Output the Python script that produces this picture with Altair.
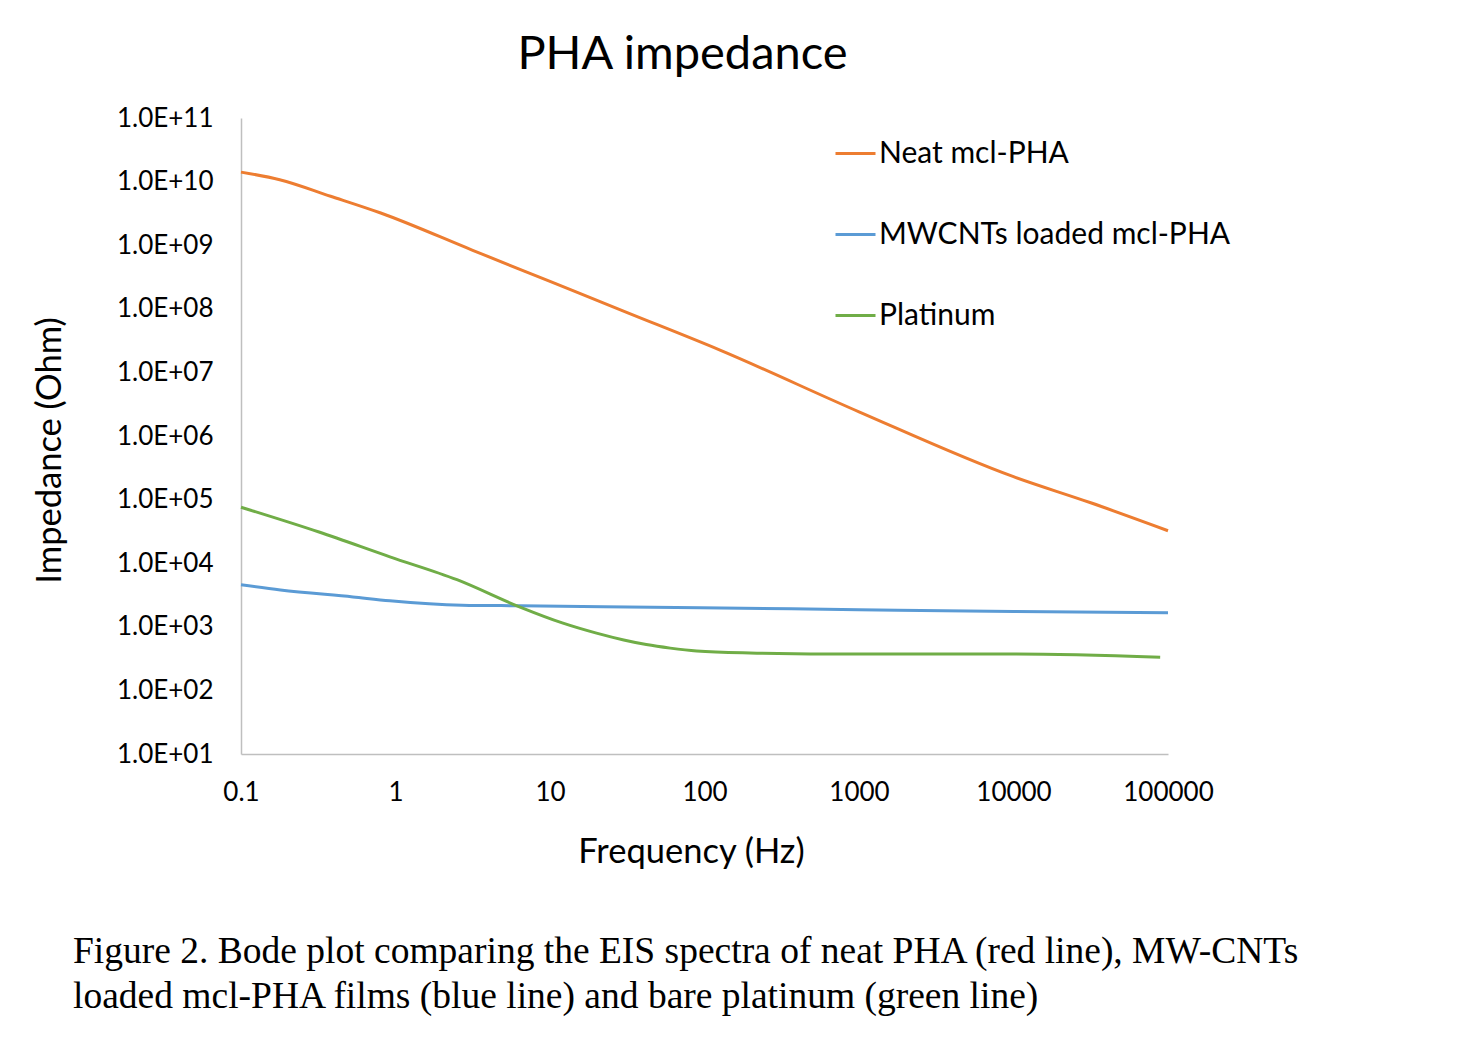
import altair as alt
import pandas as pd

series_names = ["Neat mcl-PHA", "MWCNTs loaded mcl-PHA", "Platinum"]
series_colors = ["#ED7D31", "#5B9BD5", "#70AD47"]

neat_freq = [0.1, 0.178, 0.38, 0.794, 3.16, 10, 31.6, 126, 1000, 10000, 31600, 100000]
neat_z = [1.41e10, 1.07e10, 5.89e9, 3.24e9, 8.32e8, 2.69e8, 8.71e7, 2.24e7, 2.4e6, 2.29e5, 8.91e4, 3.24e4]

mw_freq = [0.1, 0.18, 0.53, 0.92, 2.7, 6.4, 94, 1000, 10000, 100000]
mw_z = [4570, 3800, 2950, 2570, 2190, 2140, 2000, 1860, 1740, 1660]

pt_freq = [0.1, 0.32, 0.92, 2.5, 6.4, 12, 20, 30, 42, 60, 89, 197, 1000, 10000, 89000]
pt_z = [75900, 30900, 12600, 5500, 2040, 1150, 794, 620, 525, 462, 417, 389, 372, 372, 331]

x_ticks = [0.1, 1, 10, 100, 1000, 10000, 100000]
y_ticks = [1e1, 1e2, 1e3, 1e4, 1e5, 1e6, 1e7, 1e8, 1e9, 1e10, 1e11]

caption_lines = [
    "Figure 2. Bode plot comparing the EIS spectra of neat PHA (red line), MW-CNTs",
    "loaded mcl-PHA films (blue line) and bare platinum (green line)",
]

rows = []
for name, fs, zs in [(series_names[0], neat_freq, neat_z),
                     (series_names[1], mw_freq, mw_z),
                     (series_names[2], pt_freq, pt_z)]:
    for i, (f, z) in enumerate(zip(fs, zs)):
        rows.append({"series": name, "freq": f, "z": z, "order": i})
df = pd.DataFrame(rows)

FONT = "Lato"

lines = alt.Chart(df).mark_line(strokeWidth=3, interpolate="monotone").encode(
    x=alt.X("freq:Q",
            scale=alt.Scale(type="log", domain=[0.1, 100000], nice=False),
            axis=alt.Axis(values=x_ticks, format="~g", title="Frequency (Hz)",
                          grid=False, ticks=False, domainColor="#BFBFBF", domainWidth=1.5,
                          labelFlush=False,
                          labelFontSize=26, labelPadding=25, labelColor="#000000", labelFont=FONT,
                          titleFontSize=34.5, titleFontWeight="normal", titleFont=FONT,
                          titleColor="#000000", titleX=450, titleY=108,
                          titleBaseline="alphabetic")),
    y=alt.Y("z:Q",
            scale=alt.Scale(type="log", domain=[1e1, 1e11], nice=False),
            axis=alt.Axis(values=y_ticks,
                          labelExpr="'1.0E+' + (round(log(datum.value)/LN10) < 10 ? '0' : '') + format(round(log(datum.value)/LN10), 'd')",
                          title="Impedance (Ohm)", grid=False, ticks=False,
                          domainColor="#BFBFBF", domainWidth=1.5,
                          labelFontSize=26, labelPadding=28, labelColor="#000000", labelFont=FONT,
                          titleFontSize=34.5, titleFontWeight="normal", titleFont=FONT,
                          titleColor="#000000", titleX=-191, titleY=332,
                          titleAngle=-90, titleBaseline="middle", titleAlign="center")),
    color=alt.Color("series:N",
                    scale=alt.Scale(domain=series_names, range=series_colors),
                    legend=alt.Legend(title=None, orient="none", legendX=593, legendY=14,
                                      symbolType="stroke", symbolSize=1600,
                                      symbolStrokeWidth=3, labelFontSize=30, labelFont=FONT,
                                      labelColor="#000000", labelOffset=2, rowPadding=44,
                                      labelLimit=500)),
    order="order:Q",
    detail="series:N",
)

caption_df = pd.DataFrame({"t": [0]})
caption = alt.Chart(caption_df).mark_text(
    align="left", baseline="alphabetic", font="Liberation Serif", fontSize=37.5,
    lineHeight=45, color="#000000", text=caption_lines,
).encode(x=alt.value(-168), y=alt.value(845))

chart = alt.layer(lines, caption).properties(
    width=927, height=636,
    autosize=alt.AutoSizeParams(type="none"),
    padding={"left": 233, "top": 110, "right": 280, "bottom": 276},
    title=alt.TitleParams("PHA impedance", fontSize=47, font=FONT, fontWeight="normal",
                          color="#000000", anchor="middle", dx=-22, offset=26),
).configure_view(stroke=None)

chart.save("out.html", embed_options={"renderer": "svg", "actions": False})
